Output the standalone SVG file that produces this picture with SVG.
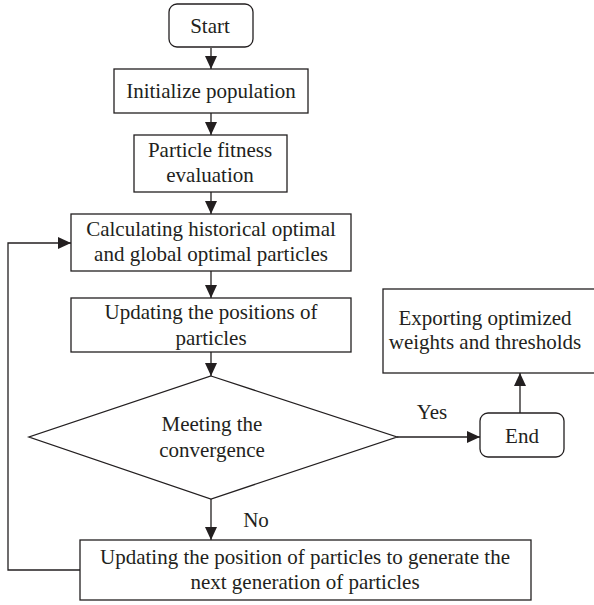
<svg xmlns="http://www.w3.org/2000/svg" width="594" height="605" viewBox="0 0 594 605">
<defs>
<marker id="ah" markerWidth="14" markerHeight="14" refX="13" refY="6.5" orient="auto" markerUnits="userSpaceOnUse">
<path d="M0,0.5 L13,6.5 L0,12.5 z" fill="#231f20"/>
</marker>
<style>
.b{fill:#fff;stroke:#231f20;stroke-width:1.3}
.t{font-family:"Liberation Serif","Times New Roman",serif;font-size:21px;fill:#231f20;text-anchor:middle}
.c{fill:none;stroke:#231f20;stroke-width:1.3;marker-end:url(#ah)}
</style>
</defs>
<rect width="594" height="605" fill="#fff"/>
<g id="connectors">
<line class="c" x1="211" y1="48" x2="211" y2="69"/>
<line class="c" x1="211" y1="113" x2="211" y2="135"/>
<line class="c" x1="211" y1="192" x2="211" y2="214"/>
<line class="c" x1="211" y1="271" x2="211" y2="298"/>
<line class="c" x1="211" y1="352" x2="211" y2="376"/>
<line class="c" x1="211" y1="499" x2="211" y2="540"/>
<line class="c" x1="397" y1="437" x2="480" y2="437"/>
<line class="c" x1="520" y1="413" x2="520" y2="373"/>
<polyline class="c" points="80,570 8,570 8,243 71,243"/>
<text class="t" x="256" y="527">No</text>
<text class="t" x="432" y="419">Yes</text>
</g>
<g id="start">
<rect class="b" x="169" y="4" width="84" height="43" rx="8"/>
<text class="t" x="210" y="33">Start</text>
</g>
<g id="init">
<rect class="b" x="114" y="69" width="194" height="44"/>
<text class="t" x="211" y="98">Initialize population</text>
</g>
<g id="fitness">
<rect class="b" x="134" y="135" width="153" height="57"/>
<text class="t" x="210" y="157">Particle fitness</text>
<text class="t" x="210" y="182">evaluation</text>
</g>
<g id="calc">
<rect class="b" x="71" y="214" width="280" height="57"/>
<text class="t" x="211" y="236">Calculating historical optimal</text>
<text class="t" x="211" y="261">and global optimal particles</text>
</g>
<g id="update">
<rect class="b" x="71" y="298" width="280" height="54"/>
<text class="t" x="211" y="319">Updating the positions of</text>
<text class="t" x="211" y="345">particles</text>
</g>
<g id="decision">
<polygon class="b" points="211,376 397,437 211,499 29,437"/>
<text class="t" x="212" y="431">Meeting the</text>
<text class="t" x="212" y="457">convergence</text>
</g>
<g id="nextgen">
<rect class="b" x="80" y="540" width="451" height="60"/>
<text class="t" x="305" y="564">Updating the position of particles to generate the</text>
<text class="t" x="305" y="589">next generation of particles</text>
</g>
<g id="end">
<rect class="b" x="480" y="413" width="84" height="44" rx="8"/>
<text class="t" x="522" y="443">End</text>
</g>
<g id="export">
<rect class="b" x="383" y="289" width="220" height="84"/>
<text class="t" x="485" y="325">Exporting optimized</text>
<text class="t" x="485" y="349">weights and thresholds</text>
</g>
</svg>
